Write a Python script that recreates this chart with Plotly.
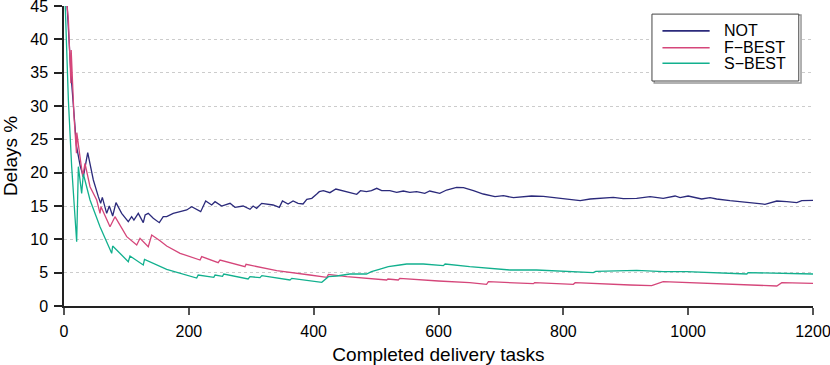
import plotly.graph_objects as go

series_names = ['NOT', 'F-BEST', 'S-BEST']
series_colors = ['#2B2A7B', '#D5467A', '#12B08E']

not_x = [1, 5, 11, 20, 26, 31, 38, 47, 55, 58.7, 61.4, 65.7, 68.4, 72.6, 78, 83.3, 92.4, 103, 108.4, 112,
         119, 127, 130, 135, 143, 152.7, 159, 164.5, 175, 186, 196.6, 204.6, 219, 227, 236.6, 242, 252.6,
         266, 274, 287, 298, 303, 308.6, 316.7, 324.7, 335, 345, 350, 359, 367, 375, 383, 389, 397, 405,
         409, 415.5, 426, 435.6, 447.5, 457, 469, 475, 484.6, 492.6, 501, 509, 522, 533, 543.6, 554, 565,
         578, 586, 602, 613, 629, 640, 656, 671.7, 690.5, 704, 720, 736, 749, 768, 784, 805, 827, 843, 859,
         880, 896, 917.5, 939, 960, 979, 987, 1000, 1021.6, 1035, 1045.6, 1067, 1088, 1110, 1123, 1142,
         1158, 1174, 1182, 1195, 1200]
not_y = [100, 45, 35, 24, 21, 19.4, 23.0, 18.9, 16.4, 15.4, 16.3, 14.65, 13.9, 15.0, 13.5, 15.5, 13.9, 12.65,
         13.4, 12.9, 13.9, 12.5, 13.65, 13.9, 13.15, 12.5, 13.4, 13.4, 13.9, 14.15, 14.4, 14.9, 14.15, 15.75,
         15.15, 15.65, 15.0, 15.4, 14.8, 15.0, 14.5, 15.0, 14.65, 15.4, 15.3, 15.15, 14.8, 15.75, 15.3, 15.75,
         15.4, 15.3, 16.0, 16.15, 16.8, 17.15, 17.3, 17.0, 17.55, 17.25, 17.0, 16.75, 17.3, 17.15, 17.3, 17.65,
         17.3, 17.3, 17.05, 17.25, 17.05, 17.15, 16.9, 17.25, 16.9, 17.4, 17.8, 17.75, 17.3, 16.8, 16.4, 16.55,
         16.25, 16.4, 16.5, 16.45, 16.3, 16.0, 15.8, 16.05, 16.15, 16.3, 16.1, 16.15, 16.4, 16.15, 16.5, 16.25,
         16.5, 16.05, 16.25, 16.05, 15.8, 15.65, 15.4, 15.25, 15.75, 15.65, 15.5, 15.8, 15.85, 15.85]

fbest_x = [1, 5, 7, 11, 11.5, 16, 20, 20.5, 25.6, 30, 33.6, 41.7, 52.4, 57.7, 59.3, 73.7, 81.7, 100.5, 116.5,
           121.8, 135, 140.5, 153.8, 164.5, 186, 218, 220.6, 247, 250, 290, 291.6, 340.8, 394, 421, 423.6,
           453, 517, 519, 535.6, 538, 600, 650, 677, 680, 752, 754, 816, 819, 907, 941.5, 960, 1050, 1142,
           1150, 1200]
fbest_y = [100, 45, 43, 33.4, 38.4, 28.5, 22.9, 26.0, 22.4, 19.4, 21.4, 17.9, 15.9, 13.9, 14.9, 11.9, 13.4,
           10.4, 9.15, 10.15, 8.9, 10.65, 9.8, 9.0, 7.9, 6.9, 7.4, 6.5, 6.9, 5.9, 6.25, 5.3, 4.65, 4.3, 4.75,
           4.4, 3.9, 4.05, 3.9, 4.15, 3.75, 3.5, 3.25, 3.65, 3.35, 3.5, 3.25, 3.5, 3.15, 3.05, 3.65, 3.3, 3.0,
           3.5, 3.4]

sbest_x = [1, 2, 7, 12.3, 17.6, 20.3, 23, 28.3, 31, 41.7, 57.7, 76.4, 78, 103, 105.7, 127, 129, 153.8, 164.5,
           212.6, 215, 240, 242, 254, 256, 295, 298, 314, 317, 362, 365, 413, 423.6, 437, 458, 484.6, 492.6,
           505, 519.6, 538, 549, 575.6, 607.7, 610.6, 650, 714.5, 757, 848, 852, 917.5, 960, 997.5, 1094,
           1096, 1200]
sbest_y = [100, 45, 30.9, 20.9, 13.4, 9.65, 20.9, 16.9, 19.8, 15.9, 11.9, 7.9, 9.0, 6.65, 7.5, 6.15, 7.0, 5.9,
           5.5, 4.2, 4.65, 4.3, 4.65, 4.45, 4.8, 4.05, 4.4, 4.25, 4.55, 3.9, 4.15, 3.55, 4.4, 4.5, 4.8, 4.8,
           5.15, 5.5, 5.9, 6.15, 6.3, 6.3, 6.05, 6.3, 5.9, 5.4, 5.4, 5.0, 5.2, 5.35, 5.15, 5.15, 4.8, 5.0, 4.8]

x_ticks = [0, 200, 400, 600, 800, 1000, 1200]
y_ticks = [0, 5, 10, 15, 20, 25, 30, 35, 40, 45]


def build_figure():
    font = 'Liberation Sans, Arial, sans-serif'
    fig = go.Figure()
    data = [(not_x, not_y), (fbest_x, fbest_y), (sbest_x, sbest_y)]
    for (xs, ys), name, color in zip(data, series_names, series_colors):
        fig.add_trace(go.Scatter(x=xs, y=ys, name=name, mode='lines',
                                 line=dict(color=color, width=1.3), showlegend=False))

    # hand-drawn legend box to get the tight R-style spacing
    fig.add_shape(type='rect', xref='paper', yref='paper', x0=0.788, x1=0.984, y0=0.743, y1=0.970,
                  line=dict(color='#999999', width=1.5), fillcolor='white')
    fig.add_shape(type='rect', xref='paper', yref='paper', x0=0.785, x1=0.981, y0=0.75, y1=0.973,
                  line=dict(color='#444444', width=1), fillcolor='white')
    legend_y = [0.917, 0.861, 0.809]
    for name, color, ly in zip(series_names, series_colors, legend_y):
        fig.add_shape(type='line', xref='paper', yref='paper', x0=0.799, x1=0.862, y0=ly, y1=ly,
                      line=dict(color=color, width=1.6))
        fig.add_annotation(x=0.878, y=ly, xref='paper', yref='paper', text=name.replace('-', '\u2212'),
                           showarrow=False, xanchor='left', yanchor='middle',
                           font=dict(family=font, size=16, color='black'))

    fig.update_layout(width=830, height=365, autosize=False, plot_bgcolor='white', paper_bgcolor='white',
                      margin=dict(l=64, r=17, t=6, b=59),
                      font=dict(family=font, size=16, color='black'))
    fig.update_xaxes(range=[0, 1200], tickvals=x_ticks, showgrid=False, zeroline=False, automargin=False,
                     showline=True, linecolor='#222222', linewidth=1.5, ticklabeloverflow='allow',
                     ticks='outside', ticklen=7, tickcolor='#555555', tickwidth=1.5, ticklabelstandoff=3,
                     title=dict(text='Completed delivery tasks', standoff=9))
    fig.update_yaxes(range=[0, 45], tickvals=y_ticks, showgrid=True, gridcolor='#cccccc', griddash='dot',
                     gridwidth=1, zeroline=False, showline=True, linecolor='#222222', linewidth=1.5,
                     automargin=False, ticklabeloverflow='allow',
                     ticks='outside', ticklen=8, tickcolor='#222222', tickwidth=1.5, ticklabelstandoff=3,
                     title=dict(text='Delays %', standoff=8))
    return fig


if __name__ == '__main__':
    fig = build_figure()
    fig.write_html('out.html', config={'displayModeBar': False},
                   post_script="document.body.style.margin='0';")
